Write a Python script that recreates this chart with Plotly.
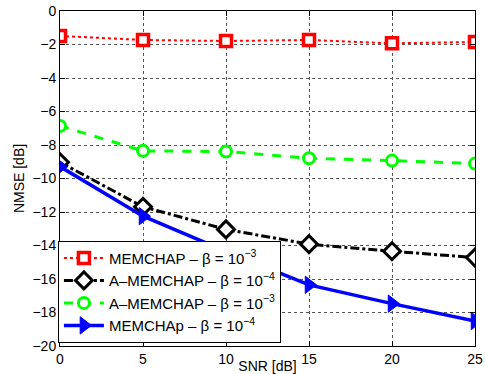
import plotly.graph_objects as go

snr = [0, 5, 10, 15, 20, 25]
memchap_b3 = [-1.49, -1.73, -1.79, -1.73, -1.93, -1.85]
amemchap_b4 = [-9.03, -11.69, -13.04, -13.92, -14.34, -14.72]
amemchap_b3 = [-6.86, -8.35, -8.39, -8.79, -8.93, -9.11]
memchap_p_b4 = [-9.29, -12.25, -14.35, -16.35, -17.47, -18.51]

names = [
    "MEMCHAP – β = 10<sup>−3</sup>",
    "A–MEMCHAP – β = 10<sup>−4</sup>",
    "A–MEMCHAP – β = 10<sup>−3</sup>",
    "MEMCHAp – β = 10<sup>−4</sup>",
]

fig = go.Figure()
fig.add_trace(go.Scatter(x=snr, y=memchap_b3, name=names[0], mode="lines+markers",
                         line=dict(color="#ff0000", width=2, dash="dot"),
                         marker=dict(symbol="square", size=11, color="white",
                                     line=dict(color="#ff0000", width=3.5))))
fig.add_trace(go.Scatter(x=snr, y=amemchap_b4, name=names[1], mode="lines+markers",
                         line=dict(color="black", width=3, dash="dashdot"),
                         marker=dict(symbol="diamond", size=13, color="white",
                                     line=dict(color="black", width=3))))
fig.add_trace(go.Scatter(x=snr, y=amemchap_b3, name=names[2], mode="lines+markers",
                         line=dict(color="#00ff00", width=3, dash="dash"),
                         marker=dict(symbol="circle", size=11, color="white",
                                     line=dict(color="#00ff00", width=3))))
fig.add_trace(go.Scatter(x=snr, y=memchap_p_b4, name=names[3], mode="lines+markers",
                         line=dict(color="#0000ff", width=3.5),
                         marker=dict(symbol="triangle-right", size=15, color="#0000ff",
                                     line=dict(color="#0000ff", width=1))))

axis_common = dict(
    showline=True, linecolor="black", linewidth=1, mirror="ticks",
    ticks="inside", ticklen=5, tickcolor="black",
    showgrid=True, gridcolor="#555", griddash="dot", gridwidth=1,
    zeroline=False, tickfont=dict(size=14, color="black"), automargin=False,
)

fig.update_xaxes(range=[0, 25], tickvals=[0, 5, 10, 15, 20, 25],
                 title=dict(text="SNR [dB]", standoff=0, font=dict(size=14, color="black")),
                 **axis_common)
fig.update_yaxes(range=[-20, 0], tickvals=list(range(-20, 1, 2)),
                 title=dict(text="NMSE [dB]", standoff=4, font=dict(size=14, color="black")),
                 **axis_common)

fig.update_layout(
    width=485, height=374,
    margin=dict(l=60, r=10, t=11, b=28),
    paper_bgcolor="white", plot_bgcolor="white",
    font=dict(family="Liberation Sans, Arial, sans-serif", size=14, color="black"),
    legend=dict(x=-0.005, y=0.01, xanchor="left", yanchor="bottom",
                bgcolor="white", bordercolor="black", borderwidth=1,
                font=dict(size=15), itemwidth=40, tracegroupgap=0),
    showlegend=True,
)

fig.write_html("out.html")
